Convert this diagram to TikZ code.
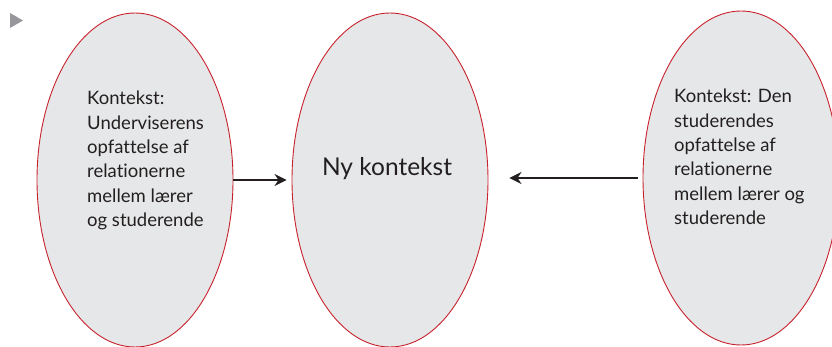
\documentclass[tikz,border=0pt]{standalone}
\usepackage{fontspec}
\setmainfont[Ligatures=NoCommon]{Lato}
\usepackage{tikz}
\usetikzlibrary{shapes.geometric,arrows.meta,positioning}
\definecolor{ovalfill}{RGB}{230,231,232}
\definecolor{ovalred}{RGB}{200,35,45}
\definecolor{arrowblack}{RGB}{35,31,32}
\definecolor{markgray}{RGB}{150,150,155}
\tikzset{
    oval/.style = {ellipse, draw=ovalred, fill=ovalfill, line width=0.9pt,
                   minimum width=196pt, minimum height=334pt, inner sep=0pt},
    ovaltext/.style = {anchor=north west, align=left, inner sep=0pt,
                       font=\fontsize{18.5}{24.3}\selectfont, text=arrowblack},
    bigtext/.style = {font=\fontsize{24.5}{26}\selectfont, text=arrowblack},
    flow/.style = {draw=arrowblack, line width=2pt, -{Stealth[length=12pt,width=12pt]}}
}

\begin{document}
\begin{tikzpicture}[x=1pt,y=-1pt]
                \useasboundingbox (0,0) rectangle (832,347);
                \clip (0,0) rectangle (832,347);

                % marker
                \fill[markgray] (10,13) -- (23,20.5) -- (10,28) -- cycle;

                % ovals
                \node[oval] (teacher) at (135,180) {};
                \node[oval] (newctx) at (390,180) {};
                \node[oval] (student) at (741,178) {};

                % texts
                \node[ovaltext] (teachertext) at (87,91) {Kontekst:\\Underviserens\\opfattelse af\\relationerne\\mellem lærer\\og studerende};
                \node[bigtext] (newtext) at (387,169) {Ny kontekst};
                \node[ovaltext] (studenttext) at (674,89) {Kontekst: Den\\studerendes\\opfattelse af\\relationerne\\mellem lærer og\\studerende};

                % arrows
                \draw[flow, shorten >=5pt] (teacher.east) -- (newctx.west);
                \coordinate (arrowend) at ([xshift=21pt]newctx.east);
                \draw[flow, shorten <=5pt] (student.west) -- (arrowend |- student.west);
\end{tikzpicture}
\end{document}
